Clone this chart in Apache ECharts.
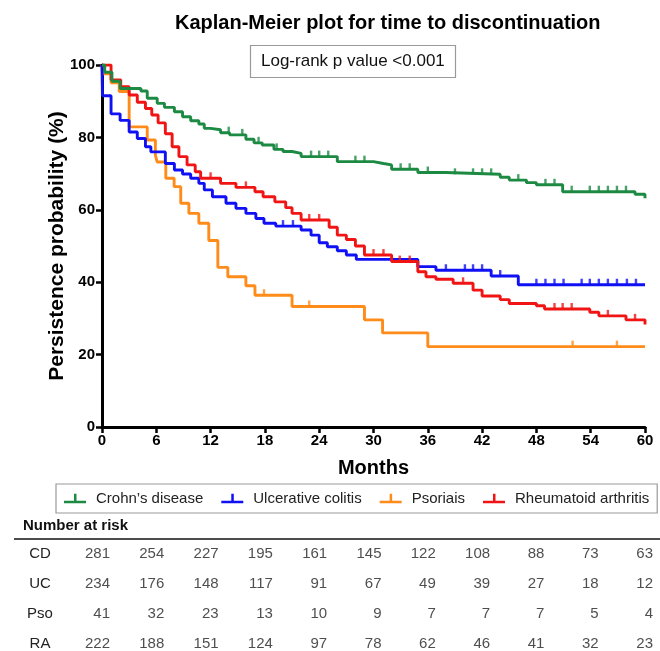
<!DOCTYPE html>
<html>
<head>
<meta charset="utf-8">
<script src="https://cdn.jsdelivr.net/npm/echarts@6/dist/echarts.min.js"></script>
<style>
  html, body { margin: 0; padding: 0; background: #fff; }
  #chart { width: 660px; height: 651px; }
</style>
</head>
<body>
<div id="chart"></div>
<script>
// Kaplan-Meier steps: time (months) and survival (%) after the drop
const cdTimes = [0, 0.3, 1.1, 2.0, 4.3, 5.0, 6.1, 6.9, 8.0, 8.9, 9.8, 10.7, 11.3, 12.0, 13.1, 14.1, 15.9, 16.8, 17.7, 19.0, 20.0, 21.0, 22.0, 26.0, 30.0, 31.1, 32.0, 34.9, 38.0, 44.0, 45.0, 46.9, 48.0, 50.9, 58.9, 60]
const cdSurv = [100, 98, 95.5, 93.5, 92.8, 90.8, 89.4, 88.3, 87.1, 85.7, 84.6, 83.7, 82.5, 82.1, 81.3, 80.7, 79.5, 78.5, 77.9, 76.7, 76.1, 75.6, 74.7, 73.3, 72.8, 72.4, 71.2, 70.3, 69.8, 69.0, 68.2, 67.5, 66.9, 65.0, 64.3, 63.2]
const cdCensor = [14.0, 15.5, 17.3, 19.3, 23.1, 24.0, 25.0, 28.0, 29.0, 33.0, 34.0, 36.0, 39.0, 41.0, 42.0, 43.0, 46.0, 49.0, 50.0, 51.9, 53.9, 54.9, 55.9, 56.9, 57.9]

const ucTimes = [0, 0.05, 1.0, 2.0, 3.0, 3.9, 4.8, 5.4, 7.0, 8.0, 8.9, 9.8, 10.7, 11.3, 12.2, 13.7, 14.8, 15.9, 17.0, 17.9, 19.2, 22.0, 23.1, 24.0, 24.9, 26.0, 27.0, 28.1, 34.9, 36.9, 43.0, 46.0, 60]
const ucSurv = [100, 91.5, 86.5, 84.7, 81.5, 79.7, 77.4, 76.0, 72.8, 71.0, 69.9, 68.7, 67.3, 65.5, 63.6, 61.8, 60.4, 59.0, 57.6, 56.3, 55.5, 54.4, 53.0, 50.9, 49.8, 48.7, 47.5, 46.3, 44.3, 43.3, 41.7, 39.3, 39.3]
const ucCensor = [20.0, 21.1, 38.0, 40.1, 41.0, 42.0, 44.0, 48.0, 49.0, 50.0, 51.0, 53.0, 53.9, 54.9, 55.9, 56.9, 58.0, 59.0]

const psoTimes = [0, 0.05, 1.0, 1.9, 3.0, 5.0, 5.9, 6.1, 7.05, 7.97, 8.7, 9.6, 10.7, 11.8, 12.8, 13.9, 15.9, 16.9, 21.0, 29.0, 31.0, 36.0, 60]
const psoSurv = [100, 97.6, 95.1, 92.7, 82.9, 79.3, 75.1, 73.2, 68.7, 66.4, 61.8, 59.0, 56.3, 51.5, 44.1, 41.5, 39.0, 36.4, 33.3, 29.6, 26.0, 22.2, 22.2]
const psoCensor = [17.9, 22.9, 52.0, 56.9]

const raTimes = [0, 1.0, 2.07, 3.0, 3.9, 4.8, 5.5, 6.2, 7.0, 7.75, 8.5, 9.4, 10.3, 10.9, 13.1, 14.8, 16.9, 17.8, 19.1, 20.3, 21.0, 22.0, 25.1, 26.0, 27.0, 28.0, 29.0, 32.0, 34.9, 35.8, 36.9, 38.8, 41.0, 42.0, 44.0, 45.0, 48.0, 48.9, 53.9, 54.9, 57.9, 60]
const raSurv = [100, 95.9, 94.0, 91.7, 89.7, 88.0, 86.2, 84.0, 81.0, 77.4, 74.7, 72.4, 70.5, 68.7, 67.3, 66.2, 65.0, 63.6, 62.2, 60.6, 59.0, 57.2, 55.2, 53.0, 51.8, 50.0, 47.5, 45.7, 42.9, 41.5, 40.8, 39.7, 37.8, 36.2, 35.2, 34.1, 33.5, 32.6, 31.7, 30.7, 29.6, 28.3]
const raCensor = [12.0, 15.9, 22.9, 24.0, 30.0, 31.1, 32.9, 34.0, 39.9, 50.0, 50.9, 51.9, 55.9, 58.9]

// number at risk table
const riskTimes = [0, 6, 12, 18, 24, 30, 36, 42, 48, 54, 60]
const riskRows = ['CD', 'UC', 'Pso', 'RA']
const riskCD = [281, 254, 227, 195, 161, 145, 122, 108, 88, 73, 63]
const riskUC = [234, 176, 148, 117, 91, 67, 49, 39, 27, 18, 12]
const riskPso = [41, 32, 23, 13, 10, 9, 7, 7, 7, 5, 4]
const riskRA = [222, 188, 151, 124, 97, 78, 62, 46, 41, 32, 23]

const groups = [
  { name: 'Crohn\u2019s disease', times: cdTimes, surv: cdSurv, censor: cdCensor, color: '#1c8a42' },
  { name: 'Ulcerative colitis', times: ucTimes, surv: ucSurv, censor: ucCensor, color: '#1010f5' },
  { name: 'Psoriais', times: psoTimes, surv: psoSurv, censor: psoCensor, color: '#ff8c1a' },
  { name: 'Rheumatoid arthritis', times: raTimes, surv: raSurv, censor: raCensor, color: '#f01414' }
]
const riskData = [riskCD, riskUC, riskPso, riskRA]

function survAt(times, surv, t) {
  let s = surv[0]
  for (let i = 0; i < times.length; i++) {
    if (times[i] <= t) s = surv[i]
  }
  return s
}

const legendIcon = 'path://M0,8 L10,8 L10,1 L12.5,1 L12.5,8 L22,8 L22,10.5 L0,10.5 Z'
const font = 'Liberation Sans'

const chart = echarts.init(document.getElementById('chart'))

// draw order: orange, blue, red, green on top
const drawOrder = [2, 1, 3, 0]
const series = []
drawOrder.forEach(gi => {
  const g = groups[gi]
  series.push({
    name: g.name,
    type: 'line',
    step: 'end',
    showSymbol: false,
    data: g.times.map((t, i) => [t, g.surv[i]]),
    lineStyle: { color: g.color, width: 2.9 },
    itemStyle: { color: g.color },
    z: 2
  })
  series.push({
    name: g.name + ' censored',
    type: 'scatter',
    symbol: 'rect',
    symbolSize: [2.4, 6],
    symbolOffset: [0, -3],
    data: g.censor.map(t => [t, survAt(g.times, g.surv, t)]),
    itemStyle: { color: g.color },
    silent: true,
    z: 2
  })
})

riskRows.forEach((row, ri) => {
  series.push({
    name: 'risk ' + row,
    type: 'scatter',
    xAxisIndex: 1,
    yAxisIndex: 1,
    symbolSize: 1,
    itemStyle: { color: 'rgba(0,0,0,0)' },
    data: riskTimes.map((t, i) => [t, row, riskData[ri][i]]),
    label: {
      show: true,
      position: 'inside',
      align: 'right',
      offset: [8, 0],
      formatter: p => p.value[2],
      fontFamily: font,
      fontSize: 15,
      color: '#222'
    },
    silent: true
  })
})

chart.setOption({
  animation: false,
  textStyle: { fontFamily: font },
  title: [
    {
      text: 'Kaplan-Meier plot for time to discontinuation',
      left: 170, top: 8,
      textStyle: { fontFamily: font, fontSize: 20, fontWeight: 'bold', color: '#000' }
    },
    {
      text: 'Log-rank p value <0.001',
      left: 250, top: 45,
      padding: [8, 11],
      borderColor: '#999',
      borderWidth: 1.2,
      textStyle: { fontFamily: font, fontSize: 17, fontWeight: 'normal', color: '#111' }
    }
  ],
  legend: {
    left: 56, top: 484,
    padding: [7, 8],
    itemGap: 18,
    itemWidth: 22,
    itemHeight: 11,
    borderColor: '#999',
    borderWidth: 1.2,
    textStyle: { fontFamily: font, fontSize: 15, color: '#222', padding: [0, 0, 0, 5] },
    data: groups.map(g => ({ name: g.name, icon: legendIcon, itemStyle: { color: g.color } }))
  },
  grid: [
    { left: 102, right: 15, top: 65, height: 362 },
    { left: 102, right: 15, top: 539, height: 120, outerBoundsMode: 'none', containLabel: false }
  ],
  xAxis: [
    {
      type: 'value', min: 0, max: 60, interval: 6,
      name: 'Months', nameLocation: 'middle', nameGap: 31,
      nameTextStyle: { fontFamily: font, fontSize: 20, fontWeight: 'bold', color: '#000' },
      axisLine: { lineStyle: { color: '#000', width: 3 } },
      axisTick: { length: 6, lineStyle: { color: '#000', width: 2.5 } },
      axisLabel: { fontFamily: font, fontSize: 15, fontWeight: 'bold', color: '#000', margin: 6 },
      splitLine: { show: false }
    },
    { type: 'value', min: 0, max: 60, gridIndex: 1, show: false }
  ],
  yAxis: [
    {
      type: 'value', min: 0, max: 100, interval: 20,
      name: 'Persistence probability (%)', nameLocation: 'middle', nameGap: 34,
      nameMoveOverlap: false,
      nameTextStyle: { fontFamily: font, fontSize: 21, fontWeight: 'bold', color: '#000' },
      axisLine: { show: true, lineStyle: { color: '#000', width: 3 } },
      axisTick: { show: true, length: 6, lineStyle: { color: '#000', width: 2.5 } },
      axisLabel: { fontFamily: font, fontSize: 15, fontWeight: 'bold', color: '#000', margin: 7 },
      splitLine: { show: false }
    },
    {
      type: 'category', gridIndex: 1, data: riskRows, inverse: true,
      axisLine: { show: false }, axisTick: { show: false }, splitLine: { show: false },
      axisLabel: { fontFamily: font, fontSize: 15, color: '#222', align: 'center', margin: 62 }
    }
  ],
  graphic: [
    {
      type: 'text', left: 23, top: 518,
      style: { text: 'Number at risk', font: 'bold 15px "Liberation Sans"', fill: '#111' }
    },
    {
      type: 'line', shape: { x1: 14, y1: 539, x2: 660, y2: 539 },
      style: { stroke: '#111', lineWidth: 1.5 }
    }
  ],
  series: series
})
</script>
</body>
</html>
